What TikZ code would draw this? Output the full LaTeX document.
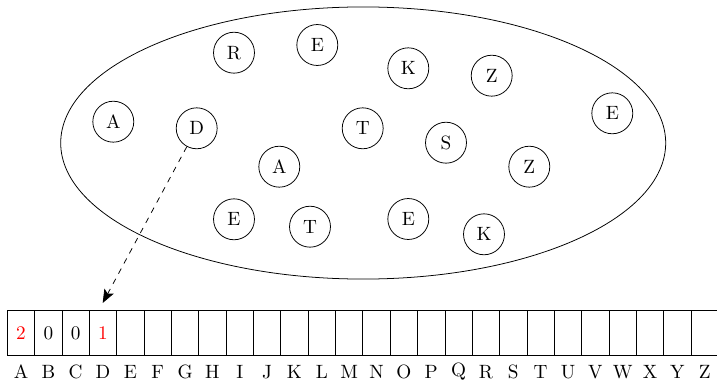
\documentclass[tikz,border=0pt]{standalone}
\usetikzlibrary{arrows.meta,shapes.geometric}
\begin{document}
\begin{tikzpicture}[x=0.52pt,y=-0.52pt,
  letter/.style={draw,circle,minimum size=21.3pt,inner sep=0pt},
  cellbox/.style={draw,minimum width=14.22pt,minimum height=23.4pt,inner sep=0pt},
  celllabel/.style={inner sep=0pt},
  tally/.style={inner sep=0pt},
  pointer/.style={dashed,-{Stealth[length=7pt,width=5.5pt,inset=1.5pt]}}]
\useasboundingbox (0,0) rectangle (717,381);

% the set of letters
\node[draw,ellipse,minimum width=314.6pt,minimum height=141.5pt,inner sep=0pt] (set) at (363.2,143) {};
\node[letter] (r1) at (234,52.7) {R};
\node[letter] (e1) at (317.3,45) {E};
\node[letter] (k1) at (408.3,68.3) {K};
\node[letter] (z1) at (491.7,75.7) {Z};
\node[letter] (a1) at (113.3,121.7) {A};
\node[letter] (d1) at (196.7,128.3) {D};
\node[letter] (t1) at (362.7,128.3) {T};
\node[letter] (s1) at (446,142.7) {S};
\node[letter] (e2) at (612.3,113.3) {E};
\node[letter] (a2) at (279.3,166.7) {A};
\node[letter] (z2) at (529.3,166.7) {Z};
\node[letter] (e3) at (234,219.3) {E};
\node[letter] (t2) at (310,226.7) {T};
\node[letter] (e4) at (408.3,219) {E};
\node[letter] (k2) at (484,234.3) {K};

% counting array, one cell per letter
\foreach \l [count=\i from 0] in {A,...,Z} {
  \node[cellbox] (cell-\l) at ({7.3+(\i+0.5)*27.35},333.2) {};
  \node[celllabel] (lab-\l) at ({7.3+(\i+0.5)*27.35},372) {\l};
}
\node[tally,red] (val-A) at (cell-A) {2};
\node[tally] (val-B) at (cell-B) {0};
\node[tally] (val-C) at (cell-C) {0};
\node[tally,red] (val-D) at (cell-D) {1};

% D is counted into its cell
\coordinate (tip) at (102.7,303);
\draw[pointer] (d1) -- (tip);
\end{tikzpicture}
\end{document}
